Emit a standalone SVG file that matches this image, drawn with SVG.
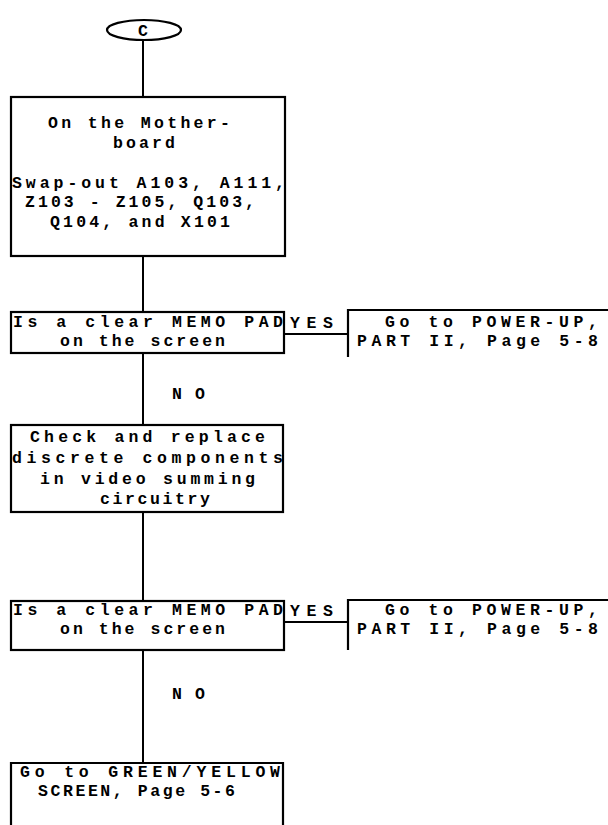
<svg xmlns="http://www.w3.org/2000/svg" width="608" height="825" viewBox="0 0 608 825">
<style>
.box{fill:none;stroke:#000;stroke-width:2.2}
.ln{fill:none;stroke:#000;stroke-width:2}
text{font-family:"Liberation Mono","DejaVu Sans Mono",monospace;font-weight:bold;font-size:16.5px;fill:#000}
</style>
<rect width="608" height="825" fill="#fff"/>
<g id="connectors">
<line class="ln" x1="143" y1="40" x2="143" y2="97"/>
<line class="ln" x1="143" y1="256" x2="143" y2="312"/>
<polyline class="ln" points="284,334 348,334"/>
<line class="ln" x1="143" y1="353" x2="143" y2="425"/>
<line class="ln" x1="143" y1="512" x2="143" y2="601"/>
<polyline class="ln" points="284,622 348,622"/>
<line class="ln" x1="143" y1="650" x2="143" y2="763"/>
</g>
<g id="start">
<ellipse class="box" cx="144" cy="30" rx="37" ry="10"/>
<text x="143" y="36" text-anchor="middle">C</text>
</g>
<g id="swap">
<rect class="box" x="11" y="97" width="274" height="159"/>
<text x="48" y="128" textLength="182" lengthAdjust="spacing">On the Mother-</text>
<text x="113" y="148" textLength="62" lengthAdjust="spacing">board</text>
<text x="12" y="188" textLength="273" lengthAdjust="spacing">Swap-out  A103, A111,</text>
<text x="25" y="207" textLength="230" lengthAdjust="spacing">Z103 - Z105, Q103,</text>
<text x="50" y="227" textLength="180" lengthAdjust="spacing">Q104, and X101</text>
</g>
<g id="q1">
<rect class="box" x="11" y="312" width="273" height="41"/>
<text x="13" y="327" textLength="270" lengthAdjust="spacing">Is a clear MEMO PAD</text>
<text x="60" y="346" textLength="165" lengthAdjust="spacing">on the screen</text>
</g>
<g id="yes1"><text x="290" y="328" textLength="43" lengthAdjust="spacing">YES</text></g>
<g id="powerup1">
<path class="box" d="M348,357 V310 H608"/>
<text x="385" y="327" textLength="213" lengthAdjust="spacing">Go to POWER-UP,</text>
<text x="357" y="346" textLength="241" lengthAdjust="spacing">PART II, Page 5-8</text>
</g>
<g id="no1"><text x="172" y="399" textLength="33" lengthAdjust="spacing">NO</text></g>
<g id="check">
<rect class="box" x="11" y="425" width="272" height="87"/>
<text x="30" y="442" textLength="235" lengthAdjust="spacing">Check and replace</text>
<text x="12" y="463" textLength="271" lengthAdjust="spacing">discrete components</text>
<text x="40" y="484" textLength="215" lengthAdjust="spacing">in video summing</text>
<text x="100" y="504" textLength="110" lengthAdjust="spacing">circuitry</text>
</g>
<g id="q2">
<rect class="box" x="11" y="601" width="273" height="49"/>
<text x="13" y="615" textLength="270" lengthAdjust="spacing">Is a clear MEMO PAD</text>
<text x="60" y="634" textLength="165" lengthAdjust="spacing">on the screen</text>
</g>
<g id="yes2"><text x="290" y="616" textLength="43" lengthAdjust="spacing">YES</text></g>
<g id="powerup2">
<path class="box" d="M348,650 V600 H608"/>
<text x="385" y="615" textLength="213" lengthAdjust="spacing">Go to POWER-UP,</text>
<text x="357" y="634" textLength="241" lengthAdjust="spacing">PART II, Page 5-8</text>
</g>
<g id="no2"><text x="172" y="699" textLength="33" lengthAdjust="spacing">NO</text></g>
<g id="greenyellow">
<path class="box" d="M11,825 V763 H283 V825"/>
<text x="20" y="777" textLength="260" lengthAdjust="spacing">Go to GREEN/YELLOW</text>
<text x="38" y="796" textLength="197" lengthAdjust="spacing">SCREEN, Page 5-6</text>
</g>
</svg>
